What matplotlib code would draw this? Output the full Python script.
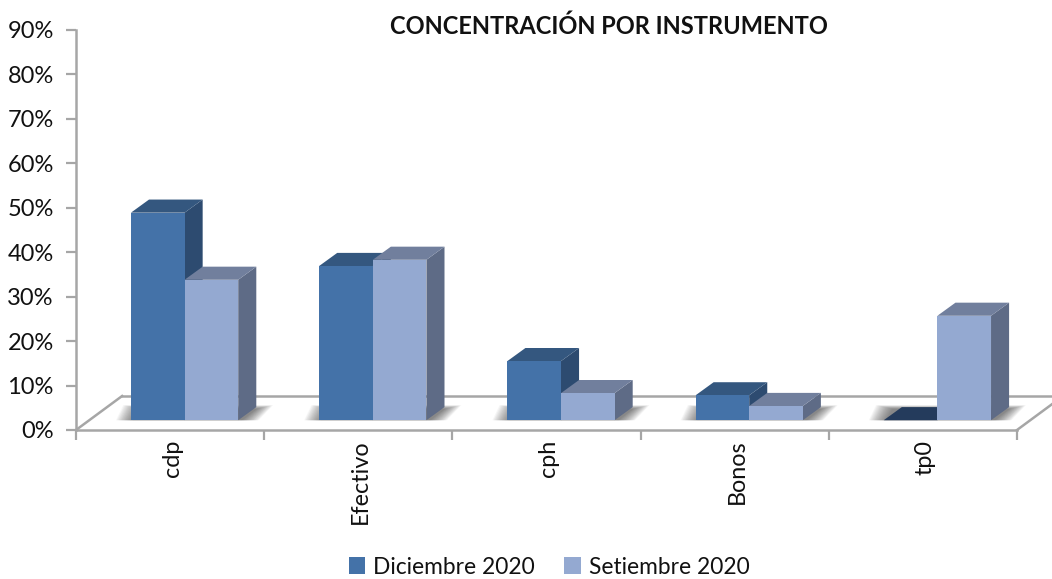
# concentracion por instrumento, 3d style columns

import numpy as np
import matplotlib.pyplot as plt
from matplotlib.patches import Polygon, Patch

plt.rcParams["font.family"] = ["Lato", "DejaVu Sans"]

categories = ["cdp", "Efectivo", "cph", "Bonos", "tp0"]
diciembre = [46.7, 34.7, 13.3, 5.6, 0.0]
setiembre = [31.6, 36.1, 6.1, 3.2, 23.5]
yticks = [0, 10, 20, 30, 40, 50, 60, 70, 80, 90]

# front, top, side colours
dic_colors = ["#4472A8", "#34577F", "#2D4B70"]
set_colors = ["#94A9D1", "#717F9D", "#5E6B86"]
zero_top = "#243B5C"
line_gray = "#A6A6A6"

W, H = 1052, 579
fig = plt.figure(figsize=(W / 100, H / 100), dpi=100)
ax = fig.add_axes([76 / W, (H - 430) / H, 941 / W, 400 / H])
ax.set_xlim(0, 5)
ax.set_ylim(0, 90)

# depth of the fake 3d, in data units
bar_dx, bar_dy = 0.096, 2.95
floor_dx, floor_dy = 0.245, 7.65
base = 2.2
gap = 0.292
width = 0.285

for s in ["top", "right"]:
    ax.spines[s].set_visible(False)
for s in ["left", "bottom"]:
    ax.spines[s].set_color(line_gray)
    ax.spines[s].set_linewidth(1.8)

# floor lines
ax.plot([0, floor_dx], [0, floor_dy], color=line_gray, lw=1.8, clip_on=False, zorder=1)
ax.plot([floor_dx, 5 + floor_dx], [floor_dy, floor_dy], color=line_gray, lw=1.8, clip_on=False, zorder=1)
ax.plot([5, 5 + floor_dx], [0, floor_dy], color=line_gray, lw=1.8, clip_on=False, zorder=1)


def add_poly(pts, color, z, alpha=1.0):
    ax.add_patch(Polygon(pts, closed=True, facecolor=color, edgecolor="none",
                         alpha=alpha, clip_on=False, zorder=z))


# soft shadow under each pair of bars, many faint layers
for i in range(len(categories)):
    x0 = i + gap
    x1 = x0 + 2 * width
    for k in np.linspace(1, 0, 24):
        pad = 0.09 * k - 0.01
        h = bar_dy * (0.85 + 0.3 * k)
        add_poly([(x0 - pad, base), (x1 + bar_dx * 0.3 + pad, base),
                  (x1 + bar_dx * 1.1 + pad, base + h),
                  (x0 + bar_dx * 0.4 - pad, base + h)],
                 "#303030", 2, alpha=0.032)


def draw_bar(x, v, colors, z):
    top = base + v
    add_poly([(x + width, base), (x + width + bar_dx, base + bar_dy),
              (x + width + bar_dx, top + bar_dy), (x + width, top)], colors[2], z)
    add_poly([(x, top), (x + width, top), (x + width + bar_dx, top + bar_dy),
              (x + bar_dx, top + bar_dy)], colors[1], z + 0.1)
    add_poly([(x, base), (x + width, base), (x + width, top), (x, top)], colors[0], z + 0.2)


for i in range(len(categories)):
    x0 = i + gap
    if diciembre[i] > 0:
        draw_bar(x0, diciembre[i], dic_colors, 3 + i)
    else:
        add_poly([(x0, base), (x0 + width, base), (x0 + width + bar_dx, base + bar_dy),
                  (x0 + bar_dx, base + bar_dy)], zero_top, 3 + i)
    draw_bar(x0 + width, setiembre[i], set_colors, 3.5 + i)

ax.set_yticks(yticks)
ax.set_yticklabels([str(v) + "%" for v in yticks], fontsize=17, color="#111111")
ax.tick_params(axis="y", length=7, width=1.6, color=line_gray, pad=9)
ax.set_xticks(range(6))
ax.set_xticklabels([])
ax.tick_params(axis="x", length=7, width=1.6, color=line_gray)
ax.set_xticks(np.arange(5) + 0.512, minor=True)
ax.set_xticklabels(categories, minor=True, rotation=90, fontsize=16.8, color="#111111")
ax.tick_params(axis="x", which="minor", length=0, pad=7)

fig.text(609 / W, 1 - 26 / H, "CONCENTRACIÓN POR INSTRUMENTO", ha="center", va="center",
         fontsize=17, fontweight="bold", color="#111111")

handles = [Patch(facecolor=dic_colors[0], label="Diciembre 2020"),
           Patch(facecolor=set_colors[0], label="Setiembre 2020")]
fig.legend(handles=handles, loc="center", bbox_to_anchor=(549 / W, 1 - 567 / H), ncol=2,
           frameon=False, fontsize=16.4, handlelength=0.72, handleheight=0.72,
           handletextpad=0.35, columnspacing=1.3, labelcolor="#111111")

fig.savefig("out.png", dpi=100)
